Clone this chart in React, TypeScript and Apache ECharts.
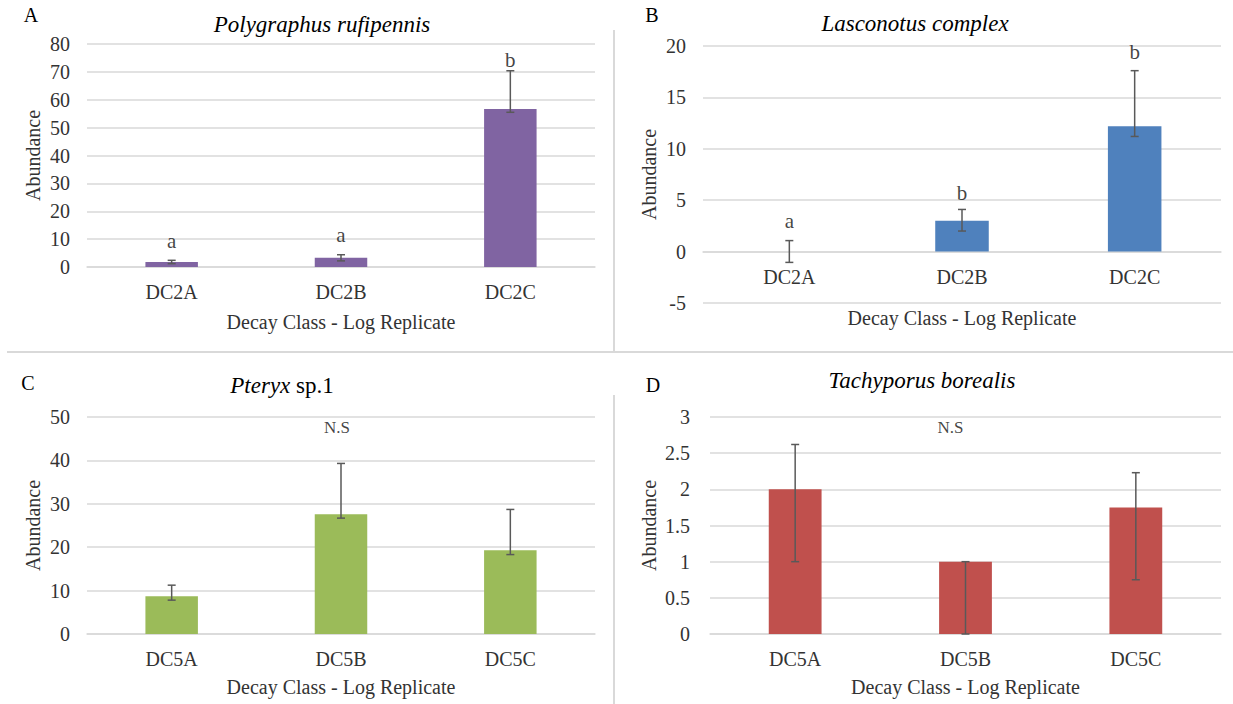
import React, { useEffect, useRef } from 'react';
import * as echarts from 'echarts';

// ---------- data ----------
const catsA = ['DC2A', 'DC2B', 'DC2C'];
const meanA = [1.8, 3.3, 56.7];
const lowA = [1.2, 2.2, 55.5];
const highA = [2.4, 4.4, 70.4];
const lettersA = ['a', 'a', 'b'];
const letterPosA = [9.3, 11.5, 74.3];

const catsB = ['DC2A', 'DC2B', 'DC2C'];
const meanB = [0, 3.0, 12.2];
const lowB = [-1.05, 2.0, 11.2];
const highB = [1.07, 4.1, 17.6];
const lettersB = ['a', 'b', 'b'];
const letterPosB = [3.0, 5.7, 19.4];

const catsC = ['DC5A', 'DC5B', 'DC5C'];
const meanC = [8.7, 27.6, 19.3];
const lowC = [7.8, 26.7, 18.3];
const highC = [11.25, 39.3, 28.7];
const lettersC = ['', 'N.S', ''];
const letterPosC = [0, 47.5, 0];

const catsD = ['DC5A', 'DC5B', 'DC5C'];
const meanD = [2.0, 1.0, 1.75];
const lowD = [1.0, 0, 0.75];
const highD = [2.62, 1.0, 2.23];
const lettersD = ['', 'N.S', ''];
const letterPosD = [0, 2.86, 0];

const titles = ['Polygraphus rufipennis', 'Lasconotus complex', '{i|Pteryx} sp.1', 'Tachyporus borealis'];
const panelTags = ['A', 'B', 'C', 'D'];
const xName = 'Decay Class - Log Replicate';
const yName = 'Abundance';

const FONT = 'Liberation Serif';

type Panel = {
  cats: string[]; mean: number[]; low: number[]; high: number[];
  letters: string[]; letterPos: number[]; color: string;
  min: number; max: number; interval: number;
  grid: any; xOffset: number; xGap: number; yGap: number; yLabelMargin: number; letterSize: number; letterOffset: number[];
};

const panels: Panel[] = [
  { cats: catsA, mean: meanA, low: lowA, high: highA, letters: lettersA, letterPos: letterPosA, color: '#8064A2',
    min: 0, max: 80, interval: 10, grid: { left: 87, right: 638, top: 44, height: 223 }, xOffset: 0, xGap: 45, yGap: 44, yLabelMargin: 17, letterSize: 21, letterOffset: [0, 0] },
  { cats: catsB, mean: meanB, low: lowB, high: highB, letters: lettersB, letterPos: letterPosB, color: '#4F81BD',
    min: -5, max: 20, interval: 5, grid: { left: 703, right: 12, top: 46, height: 257 }, xOffset: -51.4, xGap: 56, yGap: 44, yLabelMargin: 17, letterSize: 21, letterOffset: [0, 0] },
  { cats: catsC, mean: meanC, low: lowC, high: highC, letters: lettersC, letterPos: letterPosC, color: '#9BBB59',
    min: 0, max: 50, interval: 10, grid: { left: 87, right: 638, top: 417, height: 217 }, xOffset: 0, xGap: 43, yGap: 44, yLabelMargin: 17, letterSize: 17, letterOffset: [-4, 0] },
  { cats: catsD, mean: meanD, low: lowD, high: highD, letters: lettersD, letterPos: letterPosD, color: '#C0504D',
    min: 0, max: 3, interval: 0.5, grid: { left: 710, right: 12, top: 417, height: 217 }, xOffset: 0, xGap: 43, yGap: 51, yLabelMargin: 20, letterSize: 17, letterOffset: [-15, 0] },
];

const titlePos = [[322, 24], [915, 23], [282, 385], [922, 380]];
const tagPos = [[31, 15], [652, 15], [28, 383], [653, 385]];

export default function App() {
  const ref = useRef<HTMLDivElement>(null);
  useEffect(() => {
    if (!ref.current) return;
    const chart = echarts.init(ref.current, undefined, { renderer: 'svg' });
    const grids: any[] = [];
    const xAxes: any[] = [];
    const yAxes: any[] = [];
    const series: any[] = [];
    panels.forEach((p, i) => {
      grids.push({ ...p.grid, containLabel: false });
      xAxes.push({
        type: 'category', gridIndex: i, data: p.cats, position: 'bottom', offset: p.xOffset,
        axisLine: { show: true, onZero: false, lineStyle: { color: '#D9D9D9', width: 1.5 } },
        axisTick: { show: false },
        axisLabel: { fontFamily: FONT, fontSize: 20, color: '#333', margin: 15 },
        name: xName, nameLocation: 'middle', nameGap: p.xGap,
        nameTextStyle: { fontFamily: FONT, fontSize: 20, color: '#333' },
      });
      yAxes.push({
        type: 'value', gridIndex: i, min: p.min, max: p.max, interval: p.interval,
        axisLine: { show: false }, axisTick: { show: false },
        axisLabel: { fontFamily: FONT, fontSize: 20, color: '#333', margin: p.yLabelMargin },
        splitLine: { lineStyle: { color: '#D9D9D9', width: 1.5 } },
        name: yName, nameLocation: 'middle', nameGap: p.yGap,
        nameTextStyle: { fontFamily: FONT, fontSize: 20, color: '#333' },
      });
      series.push({
        type: 'bar', xAxisIndex: i, yAxisIndex: i, data: p.mean, barWidth: '31%',
        itemStyle: { color: p.color }, z: 2,
      });
      series.push({
        type: 'custom', xAxisIndex: i, yAxisIndex: i, z: 5,
        data: p.low.map((l, k) => [k, l, p.high[k]]),
        encode: { x: 0, y: [1, 2] },
        renderItem: (params: any, api: any) => {
          const lo = api.coord([api.value(0), api.value(1)]);
          const hi = api.coord([api.value(0), api.value(2)]);
          const w = 4;
          const style = { stroke: '#595959', lineWidth: 1.5, fill: 'none' };
          return {
            type: 'group',
            children: [
              { type: 'line', shape: { x1: lo[0], y1: lo[1], x2: hi[0], y2: hi[1] }, style },
              { type: 'line', shape: { x1: lo[0] - w, y1: lo[1], x2: lo[0] + w, y2: lo[1] }, style },
              { type: 'line', shape: { x1: hi[0] - w, y1: hi[1], x2: hi[0] + w, y2: hi[1] }, style },
            ],
          };
        },
      });
      series.push({
        type: 'scatter', xAxisIndex: i, yAxisIndex: i, symbolSize: 0, z: 6,
        itemStyle: { color: '#000' },
        data: p.letterPos.map((v, k) => (p.letters[k] ? { value: [k, v], name: p.letters[k] } : null)).filter(Boolean),
        label: {
          show: true, position: 'inside', formatter: '{b}', offset: p.letterOffset,
          fontFamily: FONT, fontSize: p.letterSize, color: '#111',
          textBorderWidth: 0, textBorderColor: 'transparent',
        },
      });
    });

    const graphics: any[] = [
      { type: 'line', shape: { x1: 7, y1: 352, x2: 1233, y2: 352 }, style: { stroke: '#D9D9D9', lineWidth: 2 } },
      { type: 'line', shape: { x1: 614, y1: 30, x2: 614, y2: 352 }, style: { stroke: '#D9D9D9', lineWidth: 2 } },
      { type: 'line', shape: { x1: 614, y1: 395, x2: 614, y2: 704 }, style: { stroke: '#D9D9D9', lineWidth: 2 } },
    ];
    titles.forEach((t, i) => {
      graphics.push({
        type: 'text', x: titlePos[i][0], y: titlePos[i][1],
        style: {
          text: t, fontFamily: FONT, fontSize: 23, fontStyle: i === 2 ? 'normal' : 'italic', fill: '#000',
          textAlign: 'center', textVerticalAlign: 'middle',
          rich: { i: { fontFamily: FONT, fontSize: 23, fontStyle: 'italic', fill: '#000' } },
        },
      });
    });
    panelTags.forEach((t, i) => {
      graphics.push({
        type: 'text', x: tagPos[i][0], y: tagPos[i][1],
        style: { text: t, fontFamily: FONT, fontSize: 20, fill: '#000', textAlign: 'center', textVerticalAlign: 'middle' },
      });
    });

    chart.setOption({
      animation: false,
      backgroundColor: '#fff',
      textStyle: { fontFamily: FONT },
      grid: grids,
      xAxis: xAxes,
      yAxis: yAxes,
      series,
      graphic: graphics,
    });
    return () => chart.dispose();
  }, []);
  return <div ref={ref} style={{ position: 'fixed', left: 0, top: 0, width: 1233, height: 704 }} />;
}
